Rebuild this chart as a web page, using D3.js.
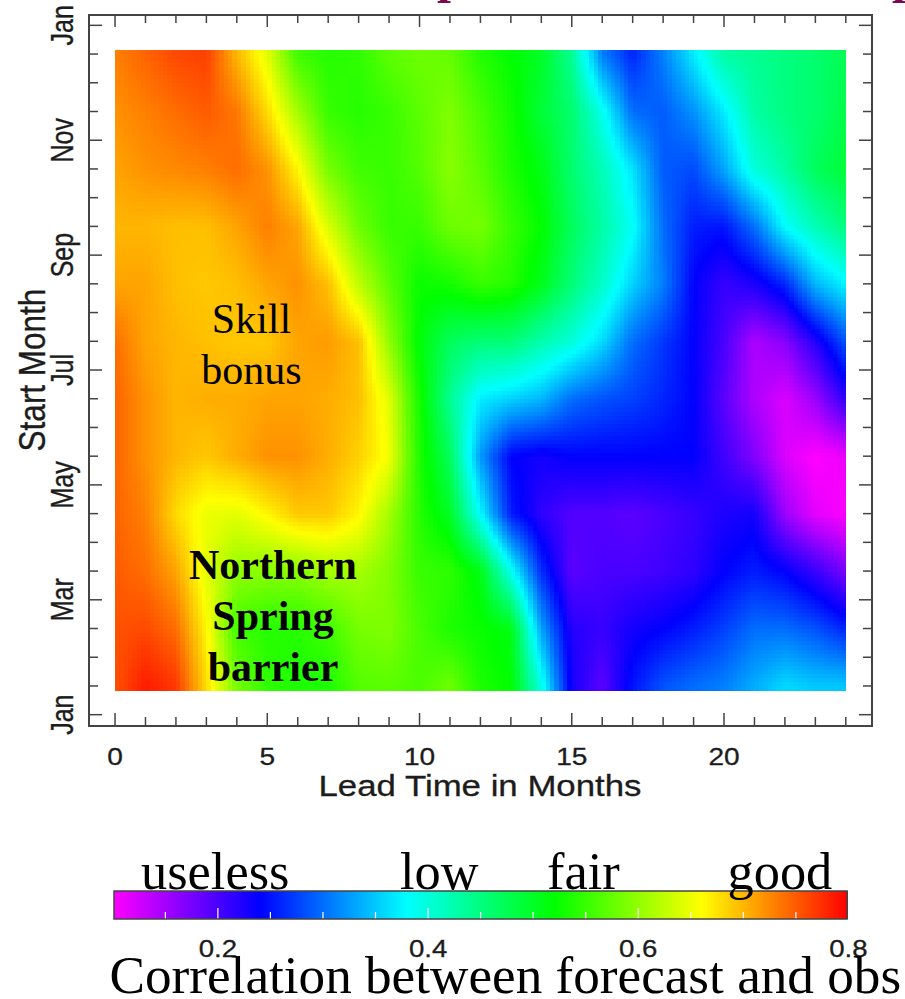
<!DOCTYPE html>
<html>
<head>
<meta charset="utf-8">
<script src="https://cdn.jsdelivr.net/npm/d3@7"></script>
<style>
  html, body { margin: 0; background: #fff; }
  svg { display: block; }
</style>
</head>
<body>
<div id="chart"></div>
<script>
const WIDTH = 905;
const HEIGHT = 999;

const leads = d3.range(0, 25);
// row centres: mid-month, Jan = 0.5 ... Dec = 11.5
const startMonths = [0.5, 1.5, 2.5, 3.5, 4.5, 5.5, 6.5, 7.5, 8.5, 9.5, 10.5, 11.5];

const rowJan = [.755,.785,.77,.68,.585,.545,.535,.535,.565,.57,.56,.58,.535,.52,.395,.23,.19,.25,.285,.30,.31,.335,.36,.35,.35];
const rowFeb = [.755,.76,.74,.665,.555,.54,.54,.555,.585,.59,.56,.535,.525,.51,.33,.22,.21,.23,.24,.255,.275,.30,.30,.285,.26];
const rowMar = [.75,.74,.71,.645,.60,.595,.595,.61,.61,.59,.55,.545,.51,.39,.265,.19,.20,.20,.205,.215,.24,.255,.24,.21,.175];
const rowApr = [.745,.73,.68,.65,.645,.665,.69,.69,.665,.61,.54,.50,.38,.255,.215,.195,.195,.19,.20,.21,.225,.23,.155,.115,.10];
const rowMay = [.745,.72,.70,.69,.705,.72,.72,.705,.685,.655,.535,.47,.325,.24,.23,.24,.24,.24,.24,.24,.205,.17,.12,.10,.11];
const rowJun = [.745,.72,.70,.705,.705,.71,.71,.705,.695,.645,.53,.44,.37,.355,.34,.30,.285,.275,.26,.24,.19,.145,.12,.155,.215];
const rowJul = [.74,.71,.70,.695,.69,.69,.71,.715,.695,.60,.515,.47,.455,.455,.425,.40,.36,.30,.27,.24,.20,.145,.165,.22,.285];
const rowAug = [.71,.71,.695,.69,.695,.71,.72,.695,.625,.57,.525,.53,.55,.54,.505,.455,.41,.355,.31,.24,.21,.225,.26,.34,.375];
const rowSep = [.70,.70,.695,.695,.71,.73,.71,.64,.58,.55,.55,.58,.585,.55,.52,.47,.43,.385,.30,.255,.25,.30,.38,.42,.45];
const rowOct = [.71,.72,.725,.73,.74,.72,.665,.585,.555,.55,.565,.595,.57,.535,.51,.46,.42,.365,.29,.28,.33,.40,.43,.47,.49];
const rowNov = [.72,.73,.74,.75,.735,.68,.61,.55,.54,.55,.57,.59,.56,.53,.49,.46,.39,.30,.29,.32,.37,.43,.45,.46,.48];
const rowDec = [.73,.745,.76,.765,.70,.645,.555,.54,.545,.57,.58,.575,.54,.52,.50,.44,.31,.26,.31,.37,.43,.44,.45,.46,.475];
const correlation = [rowJan, rowFeb, rowMar, rowApr, rowMay, rowJun, rowJul, rowAug, rowSep, rowOct, rowNov, rowDec];

const monthTicks = [0, 2, 4, 6, 8, 10, 12];
const monthLabels = ['Jan', 'Mar', 'May', 'Jul', 'Sep', 'Nov', 'Jan'];
const leadLabels = [0, 5, 10, 15, 20];
const barLabels = [0.2, 0.4, 0.6, 0.8];
const colorStops = [0.1, 0.24, 0.38, 0.52, 0.66, 0.8];
const colorNames = ['#ff00ff', '#0000ff', '#00ffff', '#00ff00', '#ffff00', '#ff0000'];
const skillWords = ['Skill', 'bonus'];
const barrierWords = ['Northern', 'Spring', 'barrier'];
const qualityWords = [['useless', 141], ['low', 400], ['fair', 547], ['good', 727.5]];
const titleScraps = [['p', 437], ['p', 892]];

const frame = { left: 89, right: 872, top: 15, bottom: 726 };
const bar = { left: 114, right: 847, top: 891, bottom: 919 };
const AXIS_COLOR = '#444';
const TEXT_COLOR = '#1c1c1c';

const x = d3.scaleLinear().domain([-0.855, 24.86]).range([frame.left, frame.right]);
const y = d3.scaleLinear().domain([-0.197, 12.18]).range([frame.bottom, frame.top]);
const color = d3.scaleLinear().domain(colorStops).range(colorNames).clamp(true);
const barX = d3.scaleLinear().domain([0.1, 0.8]).range([bar.left - 1.2, bar.right + 1.4]);

const svg = d3.select('#chart').append('svg')
  .attr('width', WIDTH)
  .attr('height', HEIGHT)
  .attr('viewBox', [0, 0, WIDTH, HEIGHT].join(' '));

// the plotting package blends between grid points, so do the same when painting
const valueAt = (lead, month) => {
  const m = Math.max(0, Math.min(10.9999, month - 0.5));
  const l = Math.max(0, Math.min(23.9999, lead));
  const r0 = Math.floor(m);
  const c0 = Math.floor(l);
  const low = d3.interpolateNumber(correlation[r0][c0], correlation[r0][c0 + 1])(l - c0);
  const high = d3.interpolateNumber(correlation[r0 + 1][c0], correlation[r0 + 1][c0 + 1])(l - c0);
  return d3.interpolateNumber(low, high)(m - r0);
};

const LEAD_STEP = 1 / 7;
const MONTH_STEP = 1 / 14;
const cells = [];
d3.range(0, Math.round(24 / LEAD_STEP)).forEach(i => {
  d3.range(0, Math.round(11.14 / MONTH_STEP)).forEach(j => {
    cells.push({ lead: i * LEAD_STEP, month: 0.43 + j * MONTH_STEP });
  });
});

svg.append('g')
  .attr('shape-rendering', 'crispEdges')
  .selectAll('rect')
  .data(cells)
  .join('rect')
  .attr('x', d => x(d.lead))
  .attr('y', d => y(d.month + MONTH_STEP))
  .attr('width', x(LEAD_STEP) - x(0) + 0.6)
  .attr('height', y(0) - y(MONTH_STEP) + 0.6)
  .attr('fill', d => color(valueAt(d.lead + LEAD_STEP / 2, d.month + MONTH_STEP / 2)));

// frame and ticks, inward on all four sides
const xMinor = d3.range(0, 25).filter(d => d % 5 !== 0);
const xMajor = d3.range(0, 25, 5);
const yMinor = d3.range(0, 12.5, 0.5).filter(d => d % 2 !== 0);
const yMajor = monthTicks;

const tickLayer = svg.append('g').attr('stroke', AXIS_COLOR).attr('stroke-width', 1.5);
const vTicks = (values, y0, len) => tickLayer.append('g').selectAll('line').data(values).join('line')
  .attr('x1', d => x(d)).attr('x2', d => x(d)).attr('y1', y0).attr('y2', y0 + len);
const hTicks = (values, x0, len) => tickLayer.append('g').selectAll('line').data(values).join('line')
  .attr('y1', d => y(d)).attr('y2', d => y(d)).attr('x1', x0).attr('x2', x0 + len);
vTicks(xMinor, frame.bottom, -9);
vTicks(xMajor, frame.bottom, -13);
vTicks(xMinor, frame.top, 8);
vTicks(xMajor, frame.top, 12);
hTicks(yMinor, frame.left, 9);
hTicks(yMajor, frame.left, 13);
hTicks(yMinor, frame.right, -9);
hTicks(yMajor, frame.right, -13);

svg.append('rect')
  .attr('x', frame.left).attr('y', frame.top)
  .attr('width', frame.right - frame.left).attr('height', frame.bottom - frame.top)
  .attr('fill', 'none').attr('stroke', AXIS_COLOR).attr('stroke-width', 2);

// axis text is stretched sideways in the source, so scale glyphs separately
const SANS = '"Liberation Sans", Arial, sans-serif';
const SERIF = '"Liberation Serif", "Times New Roman", serif';

const stretched = (text, px, py, size, sx, sy, rotate) => svg.append('text')
  .attr('transform', `translate(${px},${py})${rotate ? ' rotate(-90)' : ''} scale(${sx},${sy})`)
  .attr('text-anchor', 'middle')
  .attr('font-family', SANS)
  .attr('font-size', size)
  .attr('fill', TEXT_COLOR)
  .attr('stroke', TEXT_COLOR)
  .attr('stroke-width', 0.3)
  .text(text);

leadLabels.forEach(d => stretched(d, x(d), 765, 24, 1.17, 1));
monthTicks.forEach((d, i) => stretched(monthLabels[i], 73, y(d), 25, 1, 1.22, true));
stretched('Lead Time in Months', 480, 796, 29.5, 1.18, 1);
stretched('Start Month', 45, 370, 31.5, 1, 1.2, true);

const serifText = (text, px, py, size, anchor, weight) => svg.append('text')
  .attr('x', px)
  .attr('y', py)
  .attr('text-anchor', anchor)
  .attr('font-family', SERIF)
  .attr('font-size', size)
  .attr('font-weight', weight || 'normal')
  .attr('fill', '#000')
  .text(text);

// bottoms of the cropped title letters along the top edge
titleScraps.forEach(([w, px]) => serifText(w, px, -8, 50, 'start', 'bold').attr('fill', '#7a0a4c'));

skillWords.forEach((w, i) => serifText(w, 251.5, 333 + i * 50.5, 42, 'middle'));
barrierWords.forEach((w, i) => serifText(w, 273, 579 + i * 51, 42, 'middle', 'bold'));

// colour bar
const barSteps = d3.range(bar.left, bar.right);
svg.append('g')
  .attr('shape-rendering', 'crispEdges')
  .selectAll('rect')
  .data(barSteps)
  .join('rect')
  .attr('x', d => d)
  .attr('y', bar.top)
  .attr('width', 1.5)
  .attr('height', bar.bottom - bar.top)
  .attr('fill', d => color(barX.invert(d + 0.5)));

const barTicks = d3.range(0.15, 0.8, 0.05);
svg.append('g')
  .attr('stroke', '#fff')
  .attr('stroke-width', 1.2)
  .selectAll('line')
  .data(barTicks)
  .join('line')
  .attr('x1', d => barX(d))
  .attr('x2', d => barX(d))
  .attr('y1', bar.bottom)
  .attr('y2', (d, i) => bar.bottom - ((i + 2) % 4 === 3 ? 11 : 7));

svg.append('rect')
  .attr('x', bar.left).attr('y', bar.top)
  .attr('width', bar.right - bar.left).attr('height', bar.bottom - bar.top)
  .attr('fill', 'none').attr('stroke', AXIS_COLOR).attr('stroke-width', 1.5);

barLabels.forEach(d => stretched(d.toFixed(1), barX(d), 957, 23, 1.2, 1));
qualityWords.forEach(([w, px]) => serifText(w, px, 889, 52.4, 'start'));
serifText('Correlation between forecast and obs', 109.5, 992.5, 53.2, 'start');
</script>
</body>
</html>
